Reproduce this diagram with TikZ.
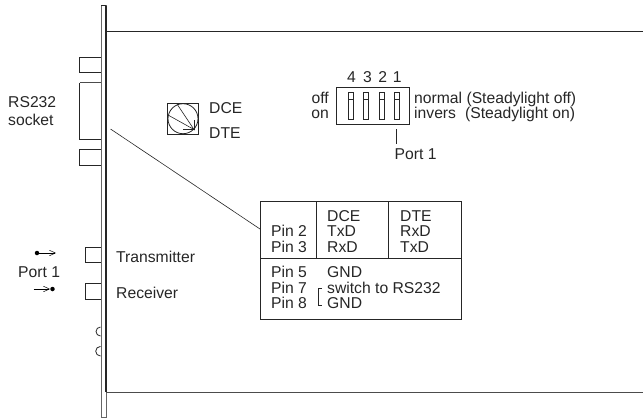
\documentclass[tikz,border=0pt]{standalone}
\usepackage{fontspec}
\setmainfont{Liberation Sans}
\usetikzlibrary{arrows.meta}
\tikzset{
  px/.style={x=1pt,y=-1pt},
  ln/.style={line width=0.8pt,black!85},
  thin ln/.style={line width=0.6pt,black!85},
  lab/.style={font=\fontsize{15.7pt}{17pt}\selectfont,inner sep=0pt,anchor=base west,text=black!85,yshift=-0.7pt},
  dot/.style={circle,fill=black,inner sep=0pt,minimum size=4.5pt},
  tip/.style={-{Straight Barb[length=6pt,width=5.5pt]},line width=0.5pt}
}
\begin{document}
\begin{tikzpicture}[px]
\useasboundingbox (0,0) rectangle (643,418);
% panel
\draw[line width=0.8pt,black!60] (101,5.5) -- (101,417.5) -- (106,417.5) -- (106,5.5) -- cycle;
\draw[line width=1.1pt,black!85] (106,5.5) -- (106,392);
\draw[line width=0.8pt,black!85] (101,5.5) -- (106,5.5);
\draw[ln] (106,31.5) -- (643,31.5);
\draw[ln,black!70] (106,392) -- (643,392);
% socket parts
\draw[ln] (100.5,57.5) -| (79.5,72.5) -- (100.5,72.5);
\draw[ln,black!70] (100.5,82.5) -- (79.5,82.5);
\draw[ln] (79.5,82.5) |- (100.5,139.5);
\draw[ln] (100.5,149.5) -| (79.5,165.5) -- (100.5,165.5);
\draw[ln] (100.5,247.5) -| (85,262.5) -- (100.5,262.5);
\draw[ln] (100.5,283.5) -| (85,299) -- (100.5,299);
\draw[ln] (100.5,336) arc[start angle=90,end angle=270,radius=4.5];
\draw[ln] (100.5,356) arc[start angle=90,end angle=270,radius=4.8];
% labels
\node[lab] (rs) at (8,106.7) {RS232};
\node[lab] (so) at (8,125) {socket};
\node[lab] (p1) at (18,276.7) {Port 1};
\node[lab] (tx) at (116,261.7) {Transmitter};
\node[lab] (rx) at (116,297.7) {Receiver};
% port arrows
\node[dot] (d1) at (37,253) {};
\coordinate (d1e) at (56,253);
\draw[tip] (d1) -- (d1e);
\node[dot] (d2) at (52.5,289) {};
\coordinate (d2s) at (33.5,289);
\draw[tip] (d2s) -- (d2);
% rotary switch
\draw[ln] (167.5,103.5) rectangle (198.5,134.5);
\draw[ln] (183,118.7) circle (15);
\draw[thin ln] (177,104) -- (194,129.5) -- (168,115);
\draw[thin ln] (183,129.5) -- (194,129.5) -- (194,120);
\node[lab] (dce) at (209,112.5) {DCE};
\node[lab] (dte) at (209,137.5) {DTE};
% leader
\coordinate (la) at (110.5,129);
\coordinate (lb) at (260,229);
\draw[thin ln] (la) -- (lb);
% dip switch
\draw[ln] (336.5,87.5) rectangle (409.5,124);
\foreach \x in {350.5,366,381.5,396.5}{
  \draw[thin ln] (\x-2.5,92.5) rectangle (\x+2.5,119.5);
  \draw[thin ln] (\x-2.5,99) -- (\x+2.5,99);
}
\foreach \x/\t in {351.5/4,367.5/3,382.7/2,397.3/1}
  \node[lab,anchor=base] at (\x,81.7) {\t};
\node[lab,anchor=base east] (off) at (329,102.7) {off};
\node[lab,anchor=base east] (on) at (329,117.5) {on};
\node[lab] (nor) at (414,102.7) {normal (Steadylight off)};
\node[lab] (inv) at (414,117.3) {invers\hspace{0.3em} (Steadylight on)};
\draw[thin ln] (396.5,129) -- (396.5,144);
\node[lab] (pt) at (394.5,158.3) {Port 1};
% table
\draw[line width=0.8pt,black!85] (260,201.5) rectangle (461.5,319.5);
\draw[ln] (260,258) -- (461.5,258);
\draw[ln] (316.5,201.5) -- (316.5,258);
\draw[ln] (388.5,201.5) -- (388.5,258);
\foreach \n/\x/\y/\t in {a/271/236/Pin 2,b/271/251.7/Pin 3,c/327/221/DCE,d/327/236/TxD,e/327/251.7/RxD,f/400/221/DTE,g/400/236/RxD,h/400/251.7/TxD,i/271/276.7/Pin 5,j/271/292.7/Pin 7,k/271/308/Pin 8,l/327/276.7/GND,m/327/292.7/switch to RS232,n/327/308/GND}
  \node[lab] (\n) at (\x,\y) {\t};
\draw[thin ln] (322,288) -- (318,288) -- (318,305) -- (322,305);
\end{tikzpicture}
\end{document}
